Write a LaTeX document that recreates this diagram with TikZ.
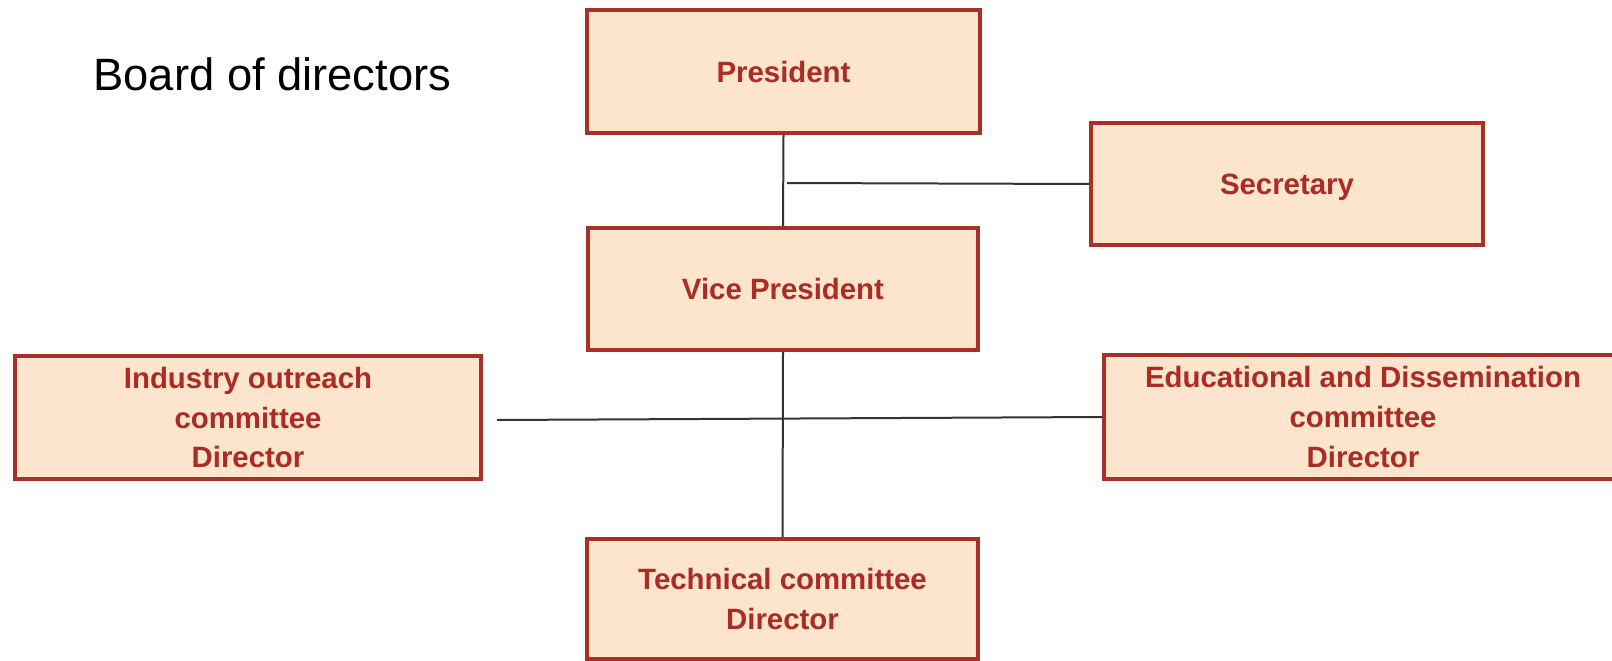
\documentclass[tikz,border=0pt]{standalone}
\usepackage{fontspec}
\setmainfont{Liberation Sans}
\definecolor{boxfill}{RGB}{252,228,205}
\definecolor{boxline}{RGB}{168,48,38}
\definecolor{boxtext}{RGB}{170,44,34}
\tikzset{
  box/.style={draw=boxline, fill=boxfill, line width=4bp, align=center,
    text=boxtext, font=\bfseries\fontsize{29.5}{40}\selectfont,
    inner sep=0pt},
  oneline/.style={text depth=0pt},
  link/.style={draw=black!80, line width=2bp}
}
\begin{document}
\begin{tikzpicture}[x=1bp,y=-1bp]
      \useasboundingbox (0,0) rectangle (1612,661);
      \node[anchor=west, font=\fontsize{45.5}{50}\selectfont] (title) at (90,74) {Board of directors};
      \node[box, oneline, minimum width=393bp, minimum height=123bp] (pres) at (783.5,71.5) {President};
      \node[box, oneline, minimum width=392bp, minimum height=122bp] (sec) at (1287,184) {Secretary};
      \node[box, oneline, minimum width=390bp, minimum height=122bp] (vp) at (783,289) {Vice President};
      \node[box, minimum width=466bp, minimum height=123bp] (ind) at (248,417.5) {Industry outreach\\committee\\Director};
      \node[box, minimum width=518bp, minimum height=124bp] (edu) at (1363,417) {Educational and Dissemination\\committee\\Director};
      \node[box, minimum width=391bp, minimum height=120bp] (tech) at (782.5,599) {Technical committee\\Director};
      \coordinate (secjoin) at (787,183);
      \coordinate (indjoin) at (497,420);
      \begin{scope}[link]
        \draw (pres.south) to (vp.north);
        \draw (secjoin) to (sec.west);
        \draw (vp.south) to (tech.north);
        \draw (indjoin) to (edu.west);
      \end{scope}
    \end{tikzpicture}
\end{document}
